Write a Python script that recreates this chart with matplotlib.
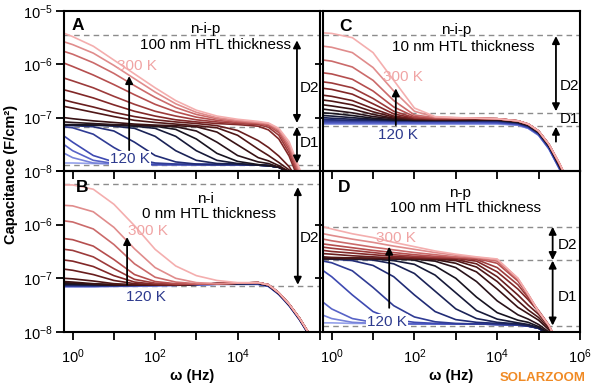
import matplotlib
matplotlib.use("Agg")
from matplotlib import pyplot as plt
from matplotlib.colors import LinearSegmentedColormap
import numpy as np

plt.rcParams["font.family"] = ["Liberation Sans", "DejaVu Sans"]
plt.rcParams["mathtext.default"] = "regular"

# temperatures of the curves, 120 K ... 300 K
temps = list(range(120, 310, 10))
# log10 of angular frequency (Hz) where the curves were read
logw = [-0.2, 0, 0.5, 1, 1.5, 2, 2.5, 3, 3.5, 4, 4.5, 4.75, 5, 5.25, 5.5, 5.75, 6]

# log10 capacitance (F/cm2), one row per temperature
# A: n-i-p, 100 nm HTL
capA = [
    [-7.85, -7.85, -7.86, -7.86, -7.87, -7.87, -7.88, -7.88, -7.88, -7.88, -7.89, -7.90, -7.93, -8.02, -8.30, -8.70, -9.10],
    [-7.67, -7.75, -7.85, -7.87, -7.88, -7.88, -7.88, -7.88, -7.88, -7.88, -7.89, -7.90, -7.93, -8.02, -8.30, -8.70, -9.10],
    [-7.51, -7.62, -7.80, -7.86, -7.87, -7.88, -7.88, -7.88, -7.88, -7.88, -7.89, -7.90, -7.93, -8.02, -8.30, -8.70, -9.10],
    [-7.35, -7.46, -7.71, -7.83, -7.87, -7.88, -7.88, -7.88, -7.88, -7.88, -7.89, -7.90, -7.93, -8.02, -8.30, -8.70, -9.10],
    [-7.17, -7.19, -7.31, -7.56, -7.77, -7.85, -7.87, -7.88, -7.88, -7.88, -7.89, -7.90, -7.93, -8.02, -8.30, -8.70, -9.10],
    [-7.14, -7.15, -7.17, -7.25, -7.46, -7.71, -7.83, -7.87, -7.88, -7.88, -7.89, -7.90, -7.93, -8.02, -8.30, -8.70, -9.10],
    [-7.14, -7.14, -7.14, -7.16, -7.20, -7.35, -7.62, -7.80, -7.86, -7.87, -7.89, -7.90, -7.93, -8.02, -8.30, -8.70, -9.10],
    [-7.14, -7.14, -7.14, -7.14, -7.16, -7.20, -7.35, -7.62, -7.80, -7.86, -7.89, -7.90, -7.93, -8.02, -8.30, -8.70, -9.10],
    [-7.13, -7.13, -7.14, -7.14, -7.15, -7.16, -7.22, -7.40, -7.67, -7.82, -7.88, -7.90, -7.93, -8.02, -8.30, -8.70, -9.10],
    [-7.08, -7.09, -7.11, -7.13, -7.14, -7.15, -7.17, -7.25, -7.46, -7.71, -7.83, -7.86, -7.93, -8.02, -8.30, -8.70, -9.10],
    [-7.00, -7.02, -7.06, -7.09, -7.12, -7.14, -7.15, -7.17, -7.27, -7.51, -7.75, -7.81, -7.90, -8.01, -8.29, -8.70, -9.10],
    [-6.79, -6.82, -6.90, -6.98, -7.05, -7.09, -7.12, -7.15, -7.19, -7.33, -7.59, -7.71, -7.84, -7.98, -8.27, -8.68, -9.10],
    [-6.67, -6.71, -6.80, -6.90, -6.98, -7.04, -7.08, -7.11, -7.15, -7.24, -7.43, -7.56, -7.72, -7.92, -8.22, -8.62, -9.05],
    [-6.48, -6.52, -6.63, -6.76, -6.88, -6.97, -7.04, -7.08, -7.11, -7.13, -7.16, -7.23, -7.40, -7.72, -8.20, -8.68, -9.15],
    [-6.26, -6.31, -6.44, -6.60, -6.75, -6.88, -6.97, -7.04, -7.08, -7.11, -7.13, -7.18, -7.33, -7.66, -8.15, -8.65, -9.15],
    [-5.98, -6.04, -6.20, -6.38, -6.57, -6.75, -6.89, -6.99, -7.05, -7.09, -7.11, -7.15, -7.28, -7.60, -8.10, -8.60, -9.10],
    [-5.76, -5.81, -5.97, -6.17, -6.40, -6.62, -6.81, -6.94, -7.02, -7.07, -7.10, -7.13, -7.25, -7.55, -8.05, -8.58, -9.10],
    [-5.58, -5.63, -5.79, -6.02, -6.27, -6.52, -6.74, -6.90, -7.00, -7.05, -7.09, -7.11, -7.22, -7.50, -8.00, -8.55, -9.10],
    [-5.42, -5.48, -5.66, -5.92, -6.18, -6.44, -6.68, -6.86, -6.97, -7.03, -7.07, -7.10, -7.20, -7.45, -7.95, -8.50, -9.05],
]

# C: n-i-p, 10 nm HTL
capC = [
    [-7.12, -7.12, -7.12, -7.12, -7.12, -7.12, -7.12, -7.12, -7.12, -7.12, -7.14, -7.20, -7.33, -7.59, -7.96, -8.36, -8.80],
    [-7.11, -7.11, -7.11, -7.11, -7.11, -7.11, -7.11, -7.11, -7.11, -7.11, -7.14, -7.20, -7.33, -7.58, -7.95, -8.35, -8.80],
    [-7.10, -7.10, -7.10, -7.10, -7.10, -7.10, -7.10, -7.10, -7.10, -7.10, -7.13, -7.19, -7.32, -7.58, -7.95, -8.35, -8.80],
    [-7.08, -7.08, -7.08, -7.08, -7.08, -7.08, -7.08, -7.08, -7.08, -7.09, -7.12, -7.18, -7.31, -7.57, -7.94, -8.34, -8.79],
    [-7.06, -7.06, -7.06, -7.06, -7.06, -7.06, -7.06, -7.06, -7.06, -7.07, -7.11, -7.17, -7.30, -7.55, -7.92, -8.32, -8.77],
    [-7.03, -7.04, -7.05, -7.05, -7.06, -7.06, -7.06, -7.06, -7.06, -7.06, -7.10, -7.16, -7.29, -7.54, -7.91, -8.31, -8.76],
    [-7.00, -7.01, -7.03, -7.04, -7.05, -7.05, -7.05, -7.05, -7.05, -7.05, -7.09, -7.15, -7.28, -7.53, -7.90, -8.30, -8.75],
    [-6.96, -6.97, -7.00, -7.03, -7.04, -7.05, -7.05, -7.05, -7.05, -7.05, -7.09, -7.15, -7.28, -7.53, -7.90, -8.30, -8.75],
    [-6.91, -6.92, -6.96, -7.01, -7.04, -7.05, -7.05, -7.05, -7.05, -7.04, -7.08, -7.14, -7.27, -7.52, -7.89, -8.29, -8.74],
    [-6.84, -6.86, -6.91, -6.98, -7.02, -7.04, -7.04, -7.04, -7.04, -7.04, -7.08, -7.14, -7.27, -7.52, -7.88, -8.28, -8.73],
    [-6.76, -6.78, -6.84, -6.94, -7.01, -7.03, -7.04, -7.04, -7.03, -7.03, -7.07, -7.13, -7.26, -7.51, -7.88, -8.28, -8.72],
    [-6.67, -6.69, -6.76, -6.89, -6.99, -7.03, -7.03, -7.03, -7.03, -7.03, -7.07, -7.13, -7.26, -7.51, -7.87, -8.27, -8.72],
    [-6.58, -6.60, -6.68, -6.83, -6.97, -7.02, -7.03, -7.03, -7.02, -7.02, -7.06, -7.12, -7.25, -7.50, -7.87, -8.27, -8.71],
    [-6.45, -6.47, -6.56, -6.74, -6.93, -7.01, -7.02, -7.02, -7.02, -7.02, -7.06, -7.12, -7.25, -7.50, -7.86, -8.26, -8.70],
    [-6.33, -6.35, -6.44, -6.64, -6.88, -7.00, -7.02, -7.02, -7.01, -7.02, -7.06, -7.12, -7.25, -7.50, -7.86, -8.26, -8.70],
    [-6.16, -6.18, -6.28, -6.50, -6.80, -6.98, -7.01, -7.01, -7.01, -7.02, -7.06, -7.12, -7.25, -7.50, -7.86, -8.26, -8.70],
    [-5.92, -5.94, -6.05, -6.30, -6.68, -6.95, -7.00, -7.01, -7.01, -7.02, -7.06, -7.12, -7.25, -7.50, -7.85, -8.25, -8.70],
    [-5.66, -5.68, -5.78, -6.06, -6.50, -6.88, -6.99, -7.00, -7.01, -7.02, -7.06, -7.12, -7.25, -7.50, -7.85, -8.25, -8.70],
    [-5.41, -5.42, -5.50, -5.78, -6.30, -6.82, -6.98, -7.00, -7.01, -7.02, -7.06, -7.12, -7.25, -7.50, -7.85, -8.25, -8.70],
]

# B: n-i, 0 nm HTL
capB = [
    [-7.16, -7.16, -7.16, -7.15, -7.15, -7.14, -7.13, -7.12, -7.11, -7.11, -7.11, -7.15, -7.30, -7.51, -7.77, -8.08, -8.43],
    [-7.15, -7.15, -7.15, -7.15, -7.14, -7.14, -7.13, -7.12, -7.11, -7.11, -7.11, -7.15, -7.30, -7.51, -7.77, -8.08, -8.43],
    [-7.15, -7.15, -7.15, -7.14, -7.14, -7.13, -7.13, -7.12, -7.11, -7.11, -7.11, -7.15, -7.30, -7.51, -7.77, -8.08, -8.43],
    [-7.14, -7.14, -7.14, -7.14, -7.13, -7.13, -7.12, -7.12, -7.11, -7.11, -7.11, -7.14, -7.29, -7.50, -7.76, -8.07, -8.42],
    [-7.14, -7.14, -7.14, -7.13, -7.13, -7.13, -7.12, -7.11, -7.10, -7.10, -7.10, -7.14, -7.29, -7.50, -7.76, -8.07, -8.42],
    [-7.13, -7.13, -7.13, -7.13, -7.13, -7.12, -7.12, -7.11, -7.10, -7.10, -7.10, -7.14, -7.29, -7.50, -7.76, -8.07, -8.42],
    [-7.12, -7.12, -7.13, -7.13, -7.13, -7.12, -7.12, -7.11, -7.10, -7.10, -7.09, -7.13, -7.28, -7.49, -7.75, -8.06, -8.41],
    [-7.11, -7.11, -7.12, -7.13, -7.12, -7.12, -7.12, -7.11, -7.10, -7.10, -7.09, -7.13, -7.28, -7.49, -7.75, -8.06, -8.41],
    [-7.10, -7.10, -7.11, -7.12, -7.12, -7.12, -7.12, -7.11, -7.10, -7.09, -7.09, -7.13, -7.28, -7.49, -7.75, -8.06, -8.41],
    [-7.08, -7.09, -7.11, -7.12, -7.12, -7.12, -7.12, -7.11, -7.10, -7.09, -7.09, -7.13, -7.28, -7.49, -7.75, -8.06, -8.41],
    [-7.06, -7.07, -7.10, -7.12, -7.12, -7.12, -7.12, -7.11, -7.10, -7.09, -7.08, -7.12, -7.27, -7.48, -7.74, -8.05, -8.40],
    [-7.00, -7.01, -7.05, -7.10, -7.12, -7.12, -7.12, -7.11, -7.10, -7.09, -7.08, -7.12, -7.27, -7.48, -7.74, -8.05, -8.40],
    [-6.83, -6.85, -6.93, -7.04, -7.10, -7.12, -7.12, -7.11, -7.10, -7.09, -7.08, -7.12, -7.27, -7.48, -7.74, -8.05, -8.40],
    [-6.66, -6.68, -6.78, -6.95, -7.07, -7.11, -7.12, -7.11, -7.10, -7.09, -7.08, -7.12, -7.27, -7.48, -7.74, -8.05, -8.40],
    [-6.46, -6.48, -6.60, -6.82, -7.02, -7.09, -7.11, -7.11, -7.10, -7.09, -7.08, -7.12, -7.27, -7.48, -7.74, -8.05, -8.40],
    [-6.26, -6.28, -6.40, -6.65, -6.93, -7.06, -7.10, -7.11, -7.10, -7.09, -7.08, -7.12, -7.27, -7.48, -7.74, -8.05, -8.40],
    [-5.93, -5.95, -6.08, -6.37, -6.73, -6.98, -7.07, -7.10, -7.10, -7.09, -7.08, -7.12, -7.27, -7.48, -7.74, -8.05, -8.40],
    [-5.64, -5.65, -5.76, -6.05, -6.45, -6.80, -7.00, -7.08, -7.10, -7.09, -7.08, -7.12, -7.27, -7.48, -7.74, -8.05, -8.40],
    [-5.26, -5.26, -5.34, -5.62, -6.02, -6.46, -6.77, -6.95, -7.04, -7.08, -7.08, -7.12, -7.27, -7.48, -7.74, -8.05, -8.40],
]

# D: n-p, 100 nm HTL
capD = [
    [-7.83, -7.83, -7.84, -7.84, -7.85, -7.85, -7.85, -7.85, -7.85, -7.86, -7.87, -7.89, -7.93, -8.05, -8.35, -8.75, -9.15],
    [-7.69, -7.75, -7.82, -7.84, -7.85, -7.85, -7.85, -7.85, -7.85, -7.86, -7.87, -7.89, -7.93, -8.05, -8.35, -8.75, -9.15],
    [-7.45, -7.57, -7.75, -7.82, -7.84, -7.85, -7.85, -7.85, -7.85, -7.86, -7.87, -7.89, -7.93, -8.05, -8.35, -8.75, -9.15],
    [-6.86, -6.97, -7.31, -7.62, -7.77, -7.82, -7.84, -7.85, -7.85, -7.86, -7.87, -7.89, -7.93, -8.05, -8.35, -8.75, -9.15],
    [-6.68, -6.71, -6.86, -7.17, -7.51, -7.72, -7.81, -7.84, -7.85, -7.86, -7.87, -7.89, -7.93, -8.05, -8.35, -8.75, -9.15],
    [-6.64, -6.64, -6.67, -6.76, -6.97, -7.31, -7.62, -7.77, -7.82, -7.84, -7.86, -7.89, -7.93, -8.05, -8.35, -8.75, -9.15],
    [-6.63, -6.63, -6.64, -6.66, -6.73, -6.91, -7.24, -7.57, -7.75, -7.82, -7.85, -7.88, -7.93, -8.05, -8.35, -8.75, -9.15],
    [-6.63, -6.63, -6.63, -6.64, -6.67, -6.74, -6.94, -7.27, -7.60, -7.76, -7.83, -7.86, -7.92, -8.04, -8.35, -8.75, -9.15],
    [-6.63, -6.63, -6.63, -6.63, -6.64, -6.66, -6.77, -7.00, -7.35, -7.64, -7.78, -7.82, -7.90, -8.02, -8.34, -8.74, -9.14],
    [-6.63, -6.63, -6.63, -6.63, -6.63, -6.64, -6.68, -6.80, -7.06, -7.42, -7.68, -7.76, -7.86, -8.00, -8.33, -8.73, -9.13],
    [-6.63, -6.63, -6.63, -6.63, -6.63, -6.63, -6.65, -6.72, -6.88, -7.20, -7.54, -7.66, -7.78, -7.96, -8.32, -8.72, -9.12],
    [-6.60, -6.61, -6.62, -6.63, -6.63, -6.63, -6.64, -6.67, -6.79, -7.06, -7.42, -7.59, -7.73, -7.93, -8.30, -8.71, -9.11],
    [-6.54, -6.55, -6.58, -6.60, -6.62, -6.63, -6.63, -6.65, -6.73, -6.97, -7.31, -7.50, -7.67, -7.90, -8.28, -8.70, -9.10],
    [-6.48, -6.50, -6.53, -6.56, -6.59, -6.61, -6.62, -6.63, -6.68, -6.88, -7.20, -7.40, -7.62, -7.88, -8.27, -8.70, -9.10],
    [-6.42, -6.44, -6.48, -6.52, -6.56, -6.59, -6.61, -6.62, -6.65, -6.80, -7.12, -7.36, -7.60, -7.87, -8.26, -8.70, -9.10],
    [-6.36, -6.38, -6.43, -6.48, -6.52, -6.56, -6.59, -6.61, -6.63, -6.72, -7.05, -7.32, -7.62, -7.88, -8.26, -8.70, -9.10],
    [-6.27, -6.30, -6.36, -6.42, -6.47, -6.52, -6.56, -6.60, -6.62, -6.68, -7.02, -7.30, -7.62, -7.88, -8.25, -8.70, -9.10],
    [-6.17, -6.20, -6.27, -6.33, -6.40, -6.46, -6.52, -6.57, -6.61, -6.65, -7.00, -7.30, -7.62, -7.88, -8.25, -8.70, -9.10],
    [-6.04, -6.08, -6.17, -6.24, -6.33, -6.41, -6.49, -6.55, -6.60, -6.64, -7.00, -7.30, -7.62, -7.88, -8.25, -8.70, -9.10],
]

# reference levels (log10 C) shown as dashed lines
levelsA = [-5.45, -7.18, -7.89]
levelsB = [-5.25, -7.14]
levelsC = [-5.45, -6.91, -7.16]
levelsD = [-6.04, -6.66, -7.89]

xticks_major = [0, 1, 2, 3, 4, 5, 6]
yticks_major = [-8, -7, -6, -5]

cmap = LinearSegmentedColormap.from_list(
    "temp", ["#95a1ea", "#4450bd", "#1f2a72", "#141422", "#3c1212", "#7e2424", "#bf5656", "#f4aeae"])
C300 = "#f0a4a4"
C120 = "#2d3a8e"

fig = plt.figure(figsize=(6, 3.92), dpi=100)
axA = fig.add_axes([0.1067, 0.5638, 0.4267, 0.4081])
axC = fig.add_axes([0.5383, 0.5638, 0.4283, 0.4081])
axB = fig.add_axes([0.1067, 0.1531, 0.4267, 0.4107])
axD = fig.add_axes([0.5383, 0.1531, 0.4283, 0.4107])

w = 10 ** np.array(logw)


def setup(ax, cap, levels, show_x, show_y, xlabels):
    ax.set_facecolor("none")
    for lv in levels:
        ax.axhline(10 ** lv, color="#8c8c8c", lw=1.0, dashes=(4, 3), zorder=1)
    for i in range(len(temps)):
        ax.plot(w, 10 ** np.array(cap[i]), color=cmap(i / (len(temps) - 1)), lw=1.2, zorder=2)
    ax.set_xscale("log")
    ax.set_yscale("log")
    ax.set_xlim(10 ** -0.21, 1e6)
    ax.set_ylim(1e-8, 1e-5)
    ax.set_xticks([10.0 ** k for k in xticks_major])
    ax.set_yticks([10.0 ** k for k in yticks_major])
    ax.minorticks_off()
    if show_x:
        ax.set_xticklabels(["$10^{%d}$" % k if k in xlabels else "" for k in xticks_major])
        ax.set_xlabel("ω (Hz)", fontsize=10.5, fontweight="bold", labelpad=2)
    else:
        ax.set_xticklabels([])
    if show_y:
        ax.set_yticklabels(["$10^{%d}$" % k for k in yticks_major])
    else:
        ax.set_yticklabels([])
    ax.tick_params(direction="out", length=6, width=1.3, labelsize=10.5, pad=2,
                   top=False, right=False)
    ax.tick_params(axis="x", pad=5)
    for s in ax.spines.values():
        s.set_linewidth(1.5)


setup(axA, capA, levelsA, False, True, [])
setup(axC, capC, levelsC, False, False, [])
setup(axB, capB, levelsB, True, True, [0, 2, 4])
setup(axD, capD, levelsD, True, False, [0, 2, 4, 6])
# top label of B would sit on A's bottom label
axB.set_yticklabels(["$10^{-8}$", "$10^{-7}$", "$10^{-6}$", ""])


def arrow(ax, x, y0, y1, style="-|>"):
    ax.annotate("", xy=(10 ** x, 10 ** y1), xytext=(10 ** x, 10 ** y0),
                arrowprops=dict(arrowstyle=style, color="black", lw=1.3,
                                mutation_scale=11, shrinkA=0, shrinkB=0), zorder=5)


tkw = dict(fontsize=11, ha="center", va="center")

# panel A
axA.text(0.055, 0.91, "A", transform=axA.transAxes, fontsize=12.5, fontweight="bold", ha="center", va="center")
axA.text(0.551, 0.887, "n-i-p", transform=axA.transAxes, **tkw)
axA.text(0.59, 0.787, "100 nm HTL thickness", transform=axA.transAxes, **tkw)
axA.text(0.285, 0.656, "300 K", transform=axA.transAxes, color=C300, **tkw)
axA.text(0.258, 0.075, "120 K", transform=axA.transAxes, color=C120, zorder=6,
         bbox=dict(facecolor="white", edgecolor="none", pad=0.5), **tkw)
arrow(axA, 1.37, -7.61, -6.22)
arrow(axA, 5.44, -5.55, -7.10, "<|-|>")
arrow(axA, 5.44, -7.17, -7.86, "<|-|>")
axA.text(0.922, 0.519, "D2", transform=axA.transAxes, fontsize=11, ha="left", va="center")
axA.text(0.922, 0.175, "D1", transform=axA.transAxes, fontsize=11, ha="left", va="center")

# panel C
axC.text(0.089, 0.906, "C", transform=axC.transAxes, fontsize=12.5, fontweight="bold", ha="center", va="center")
axC.text(0.52, 0.881, "n-i-p", transform=axC.transAxes, **tkw)
axC.text(0.545, 0.775, "10 nm HTL thickness", transform=axC.transAxes, **tkw)
axC.text(0.311, 0.5875, "300 K", transform=axC.transAxes, color=C300, **tkw)
axC.text(0.292, 0.225, "120 K", transform=axC.transAxes, color=C120, **tkw)
arrow(axC, 1.55, -7.14, -6.45)
arrow(axC, 5.42, -5.47, -6.88, "<|-|>")
arrow(axC, 5.42, -7.45, -7.17)
axC.text(0.922, 0.531, "D2", transform=axC.transAxes, fontsize=11, ha="left", va="center")
axC.text(0.922, 0.325, "D1", transform=axC.transAxes, fontsize=11, ha="left", va="center")

# panel B
axB.text(0.07, 0.897, "B", transform=axB.transAxes, fontsize=12.5, fontweight="bold", ha="center", va="center")
axB.text(0.551, 0.829, "n-i", transform=axB.transAxes, **tkw)
axB.text(0.566, 0.73, "0 nm HTL thickness", transform=axB.transAxes, **tkw)
axB.text(0.328, 0.625, "300 K", transform=axB.transAxes, color=C300, **tkw)
axB.text(0.320, 0.217, "120 K", transform=axB.transAxes, color=C120, **tkw)
arrow(axB, 1.32, -7.12, -6.23)
arrow(axB, 5.46, -5.30, -7.12, "<|-|>")
axB.text(0.922, 0.581, "D2", transform=axB.transAxes, fontsize=11, ha="left", va="center")

# panel D
axD.text(0.082, 0.897, "D", transform=axD.transAxes, fontsize=12.5, fontweight="bold", ha="center", va="center")
axD.text(0.533, 0.866, "n-p", transform=axD.transAxes, **tkw)
axD.text(0.556, 0.773, "100 nm HTL thickness", transform=axD.transAxes, **tkw)
axD.text(0.284, 0.581, "300 K", transform=axD.transAxes, color=C300, **tkw)
axD.text(0.249, 0.062, "120 K", transform=axD.transAxes, color=C120, zorder=6,
         bbox=dict(facecolor="white", edgecolor="none", pad=0.5), **tkw)
arrow(axD, 1.39, -7.55, -6.41)
arrow(axD, 5.34, -6.04, -6.66, "<|-|>")
arrow(axD, 5.34, -6.67, -7.88, "<|-|>")
axD.text(0.914, 0.538, "D2", transform=axD.transAxes, fontsize=11, ha="left", va="center")
axD.text(0.914, 0.217, "D1", transform=axD.transAxes, fontsize=11, ha="left", va="center")

fig.text(0.018, 0.554, "Capacitance (F/cm²)", rotation=90, fontsize=10.5,
         fontweight="bold", ha="center", va="center")
# watermark, set just below the tick labels so it does not hide them
fig.text(0.905, 0.035, "SOLARZOOM", color="#f08a24", fontsize=9.5,
         fontweight="bold", ha="center", va="center")

fig.savefig("out.png", dpi=100)
